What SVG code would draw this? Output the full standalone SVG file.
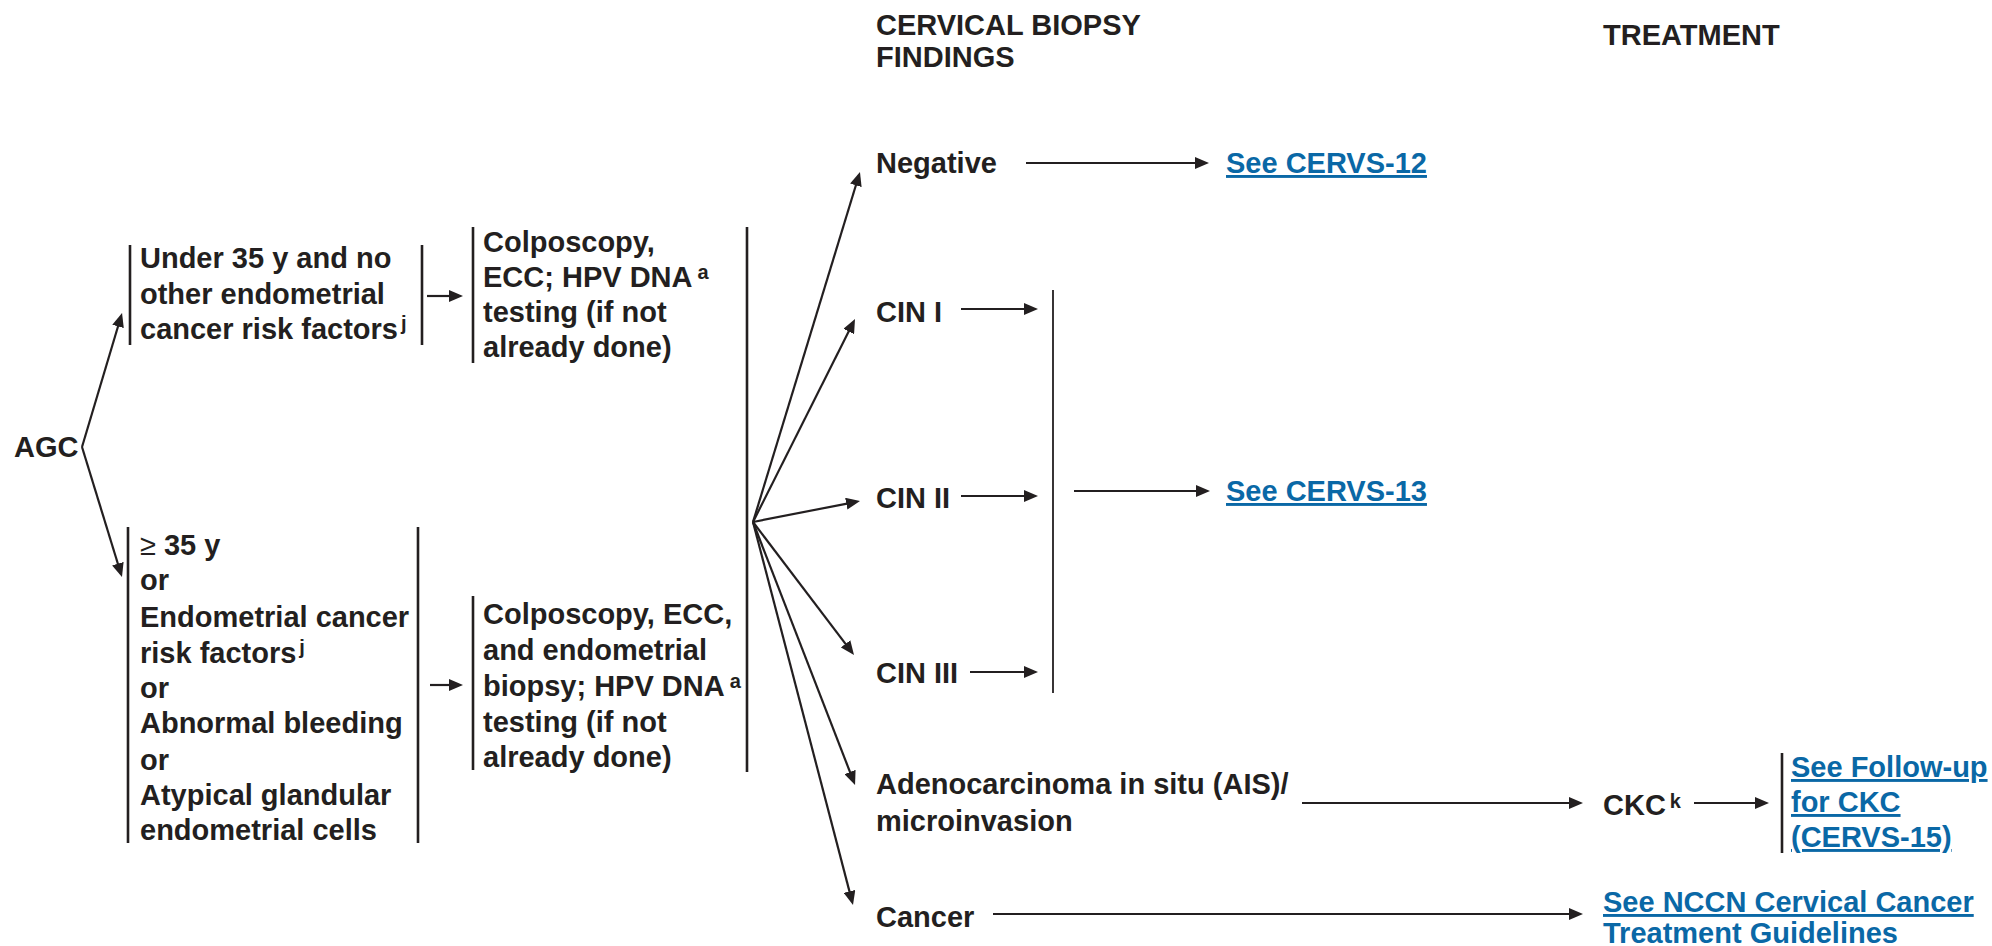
<svg xmlns="http://www.w3.org/2000/svg" width="1992" height="946" viewBox="0 0 1992 946">
  <style>
    text { font-family: "Liberation Sans", Arial, sans-serif; font-weight: bold; font-size: 29px; fill: #231f20; }
    .sup { font-size: 20px; }
    .ge { font-weight: normal; }
    .link { fill: #0a68a6; text-decoration: underline; }
    .linkplain { fill: #0a68a6; }
    .bar { stroke: #231f20; stroke-width: 2.6; fill: none; }
    .thinbar { stroke: #231f20; stroke-width: 1.8; fill: none; }
    .arrow { stroke: #231f20; stroke-width: 2.2; fill: none; marker-end: url(#head); }
  </style>
  <defs>
    <marker id="head" viewBox="0 0 14 12" refX="10" refY="6" markerWidth="14" markerHeight="12" markerUnits="userSpaceOnUse" orient="auto">
      <path d="M0,0 L14,6 L0,12 z" fill="#231f20"/>
    </marker>
  </defs>
  <rect width="1992" height="946" fill="#ffffff"/>

  <!-- column headings -->
  <g id="heading-findings">
    <text x="876" y="35">CERVICAL BIOPSY</text>
    <text x="876" y="67">FINDINGS</text>
  </g>
  <g id="heading-treatment">
    <text x="1603" y="45">TREATMENT</text>
  </g>

  <!-- entry -->
  <g id="agc">
    <text x="14" y="457">AGC</text>
  </g>

  <!-- age / risk branches -->
  <g id="under-35">
    <line class="bar" x1="130" y1="245" x2="130" y2="345"/>
    <line class="bar" x1="422" y1="245" x2="422" y2="345"/>
    <text x="140" y="268">Under 35 y and no</text>
    <text x="140" y="304">other endometrial</text>
    <text x="140" y="339">cancer risk factors<tspan class="sup" dx="3" dy="-9">j</tspan></text>
  </g>
  <g id="over-35">
    <line class="bar" x1="128" y1="527" x2="128" y2="843"/>
    <line class="bar" x1="418" y1="527" x2="418" y2="843"/>
    <text x="140" y="555"><tspan class="ge">≥</tspan> 35 y</text>
    <text x="140" y="590">or</text>
    <text x="140" y="627">Endometrial cancer</text>
    <text x="140" y="663">risk factors<tspan class="sup" dx="3" dy="-9">j</tspan></text>
    <text x="140" y="698">or</text>
    <text x="140" y="733">Abnormal bleeding</text>
    <text x="140" y="770">or</text>
    <text x="140" y="805">Atypical glandular</text>
    <text x="140" y="840">endometrial cells</text>
  </g>

  <!-- work-up -->
  <g id="workup-under-35">
    <line class="bar" x1="473" y1="227" x2="473" y2="363"/>
    <text x="483" y="252">Colposcopy,</text>
    <text x="483" y="287">ECC; HPV DNA<tspan class="sup" dx="5" dy="-8">a</tspan></text>
    <text x="483" y="322">testing (if not</text>
    <text x="483" y="357">already done)</text>
  </g>
  <g id="workup-over-35">
    <line class="bar" x1="473" y1="596" x2="473" y2="770"/>
    <text x="483" y="624">Colposcopy, ECC,</text>
    <text x="483" y="660">and endometrial</text>
    <text x="483" y="696">biopsy; HPV DNA<tspan class="sup" dx="5" dy="-8">a</tspan></text>
    <text x="483" y="732">testing (if not</text>
    <text x="483" y="767">already done)</text>
  </g>
  <g id="workup-join">
    <line class="bar" x1="747" y1="227" x2="747" y2="772"/>
  </g>

  <!-- biopsy findings -->
  <g id="negative">
    <text x="876" y="173">Negative</text>
  </g>
  <g id="cin1">
    <text x="876" y="322">CIN I</text>
  </g>
  <g id="cin2">
    <text x="876" y="508">CIN II</text>
  </g>
  <g id="cin3">
    <text x="876" y="683">CIN III</text>
  </g>
  <g id="cin-join">
    <line class="thinbar" x1="1053" y1="290" x2="1053" y2="693"/>
  </g>
  <g id="ais">
    <text x="876" y="794">Adenocarcinoma in situ (AIS)/</text>
    <text x="876" y="831">microinvasion</text>
  </g>
  <g id="cancer">
    <text x="876" y="927">Cancer</text>
  </g>

  <!-- treatment -->
  <g id="see-cervs-12">
    <text class="link" x="1226" y="173">See CERVS-12</text>
  </g>
  <g id="see-cervs-13">
    <text class="link" x="1226" y="501">See CERVS-13</text>
  </g>
  <g id="ckc">
    <text x="1603" y="815">CKC<tspan class="sup" dx="4" dy="-7">k</tspan></text>
  </g>
  <g id="follow-up-ckc">
    <line class="bar" x1="1782" y1="753" x2="1782" y2="853"/>
    <text class="link" x="1791" y="777">See Follow-up</text>
    <text class="link" x="1791" y="812">for CKC</text>
    <text class="link" x="1791" y="847">(CERVS-15)</text>
  </g>
  <g id="nccn-guidelines">
    <text class="link" x="1603" y="912">See NCCN Cervical Cancer</text>
    <text class="linkplain" x="1603" y="943">Treatment Guidelines</text>
  </g>

  <!-- connectors -->
  <g id="connectors">
    <line class="arrow" x1="82" y1="447" x2="120.9" y2="316.8"/>
    <line class="arrow" x1="82" y1="447" x2="120.8" y2="573.2"/>
    <line class="arrow" x1="427" y1="296" x2="459" y2="296"/>
    <line class="arrow" x1="430" y1="685" x2="459" y2="685"/>

    <line class="arrow" x1="753" y1="522" x2="858.8" y2="175.8"/>
    <line class="arrow" x1="753" y1="522" x2="853.2" y2="322.6"/>
    <line class="arrow" x1="753" y1="522" x2="856.1" y2="501.8"/>
    <line class="arrow" x1="753" y1="522" x2="851.6" y2="651.8"/>
    <line class="arrow" x1="753" y1="522" x2="853.6" y2="781.3"/>
    <line class="arrow" x1="753" y1="522" x2="852" y2="901.1"/>

    <line class="arrow" x1="1026" y1="163" x2="1205" y2="163"/>
    <line class="arrow" x1="961" y1="309" x2="1034" y2="309"/>
    <line class="arrow" x1="961" y1="496" x2="1034" y2="496"/>
    <line class="arrow" x1="970" y1="672" x2="1034" y2="672"/>
    <line class="arrow" x1="1074" y1="491" x2="1206" y2="491"/>
    <line class="arrow" x1="1302" y1="803" x2="1579" y2="803"/>
    <line class="arrow" x1="1694" y1="803" x2="1765" y2="803"/>
    <line class="arrow" x1="993" y1="914" x2="1579" y2="914"/>
  </g>
</svg>
